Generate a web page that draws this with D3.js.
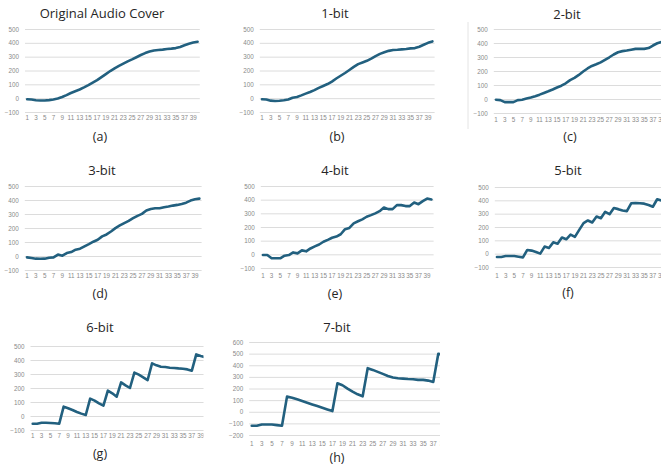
<!DOCTYPE html>
<html>
<head>
<meta charset="utf-8">
<script src="https://cdn.jsdelivr.net/npm/d3@7/dist/d3.min.js"></script>
<style>
  html, body { margin: 0; padding: 0; background: #fff; }
  svg { display: block; }
</style>
</head>
<body>
<svg id="fig" width="661" height="470"></svg>
<script>
// Sample indices along the horizontal axis
const samples = [1,2,3,4,5,6,7,8,9,10,11,12,13,14,15,16,17,18,19,20,
                 21,22,23,24,25,26,27,28,29,30,31,32,33,34,35,36,37,38,39,40];
const xTickLabels = [1,3,5,7,9,11,13,15,17,19,21,23,25,27,29,31,33,35,37,39];
const yTicksStd = [-100, 0, 100, 200, 300, 400, 500];
const yTicksWide = [-200, -100, 0, 100, 200, 300, 400, 500, 600];

const titles = ["Original Audio Cover", "1-bit", "2-bit", "3-bit", "4-bit", "5-bit", "6-bit", "7-bit"];
const captions = ["(a)", "(b)", "(c)", "(d)", "(e)", "(f)", "(g)", "(h)"];

// Series values per panel
const cover = [-8,-10,-15,-17,-17,-14,-10,-3,8,22,37,50,63,78,94,112,130,152,174,196,
               216,234,250,266,280,296,312,326,337,345,348,351,355,358,362,370,382,393,402,408];
const bit1  = [-8,-10,-18,-20,-19,-15,-10,3,8,20,33,45,58,74,88,102,120,142,162,182,
               204,226,246,258,270,286,304,320,332,342,348,350,353,356,360,362,372,386,400,410];
const bit2  = [-5,-8,-22,-22,-22,-8,-5,3,10,20,31,43,55,68,82,95,112,135,151,172,
               196,218,236,248,262,280,298,318,334,342,346,352,358,358,358,364,382,398,408,416];
const bit3  = [-10,-14,-19,-20,-19,-12,-10,10,2,21,28,45,52,69,85,102,116,140,154,175,
               199,218,235,251,270,287,301,325,336,341,341,348,353,360,365,372,381,396,405,410];
const bit4  = [-5,-5,-29,-29,-29,-10,-5,14,7,29,22,43,58,72,92,106,121,130,147,184,
               193,227,242,256,275,287,300,316,343,331,331,360,360,353,353,379,367,389,408,401];
const bit5  = [-25,-25,-18,-18,-18,-23,-28,28,23,13,0,53,43,85,75,121,108,143,126,178,
               229,249,234,279,266,314,296,342,334,324,319,378,380,378,375,365,352,408,398,392];
const bit6  = [-55,-55,-48,-48,-50,-52,-55,67,55,43,29,17,7,124,110,90,74,181,162,138,
               240,219,200,310,295,276,257,376,362,352,350,345,343,340,338,333,324,440,428,420];
const bit7  = [-121,-121,-110,-110,-110,-115,-121,130,121,107,92,78,63,49,35,20,6,245,228,199,
               173,150,133,375,360,343,326,308,294,288,285,282,280,274,274,268,256,499,490,480];

const seriesList = [cover, bit1, bit2, bit3, bit4, bit5, bit6, bit7];

// Panel geometry: plot band range, vertical pixel anchors, text rows and clip extents
const layout = [
  { x0: 25.0,  x1: 199.8, vTop: 500, pTop: 29,  vBot: -100, pBot: 112, ticks: yTicksStd,  titleX: 102, titleY: 13,  capX: 100, capY: 137, tickY: 119, clipL: 0,   clipR: 218 },
  { x0: 259.8, x1: 434.6, vTop: 500, pTop: 29,  vBot: -100, pBot: 112, ticks: yTicksStd,  titleX: 335, titleY: 13,  capX: 337, capY: 137, tickY: 119, clipL: 222, clipR: 440 },
  { x0: 493.8, x1: 668.2, vTop: 500, pTop: 29,  vBot: -100, pBot: 113, ticks: yTicksStd,  titleX: 567, titleY: 14,  capX: 570, capY: 137, tickY: 121, clipL: 442, clipR: 661, border: 468 },
  { x0: 24.8,  x1: 201.6, vTop: 500, pTop: 186, vBot: -100, pBot: 270, ticks: yTicksStd,  titleX: 102, titleY: 170, capX: 100, capY: 294, tickY: 277, clipL: 0,   clipR: 218 },
  { x0: 260.8, x1: 433.6, vTop: 500, pTop: 186, vBot: -100, pBot: 268, ticks: yTicksStd,  titleX: 335, titleY: 170, capX: 335, capY: 294, tickY: 277, clipL: 222, clipR: 440 },
  { x0: 494.8, x1: 668.0, vTop: 500, pTop: 187, vBot: -100, pBot: 267, ticks: yTicksStd,  titleX: 568, titleY: 170, capX: 568, capY: 293, tickY: 277, clipL: 442, clipR: 661 },
  { x0: 30.5,  x1: 207.3, vTop: 500, pTop: 346, vBot: -100, pBot: 430, ticks: yTicksStd,  titleX: 100, titleY: 327, capX: 100, capY: 454, tickY: 437, clipL: 0,   clipR: 203.5 },
  { x0: 249.2, x1: 450.9, vTop: 600, pTop: 342, vBot: -200, pBot: 435, ticks: yTicksWide, titleX: 337, titleY: 327, capX: 337, capY: 458, tickY: 445, clipL: 222, clipR: 440 }
];

const svg = d3.select("#fig");
const defs = svg.append("defs");

layout.forEach((L, i) => {
  const values = seriesList[i];
  const g = svg.append("g").attr("class", "panel");

  // clip so axes that run past the panel edge are cut off
  defs.append("clipPath").attr("id", "clip" + i)
    .append("rect").attr("x", L.clipL).attr("y", 0)
    .attr("width", L.clipR - L.clipL).attr("height", 470);
  const body = g.append("g").attr("clip-path", "url(#clip" + i + ")");

  const x = d3.scaleBand().domain(samples).range([L.x0, L.x1]).padding(0);
  const y = d3.scaleLinear().domain([L.vBot, L.vTop]).range([L.pBot, L.pTop]);
  const cx = d => x(d) + x.bandwidth() / 2;

  if (L.border) {
    body.append("line")
      .attr("x1", L.border).attr("x2", L.border)
      .attr("y1", L.pTop - 7).attr("y2", L.tickY + 8)
      .attr("stroke", "#e4e4e4").attr("stroke-width", 1);
  }

  // value axis with horizontal gridlines
  const yAxis = body.append("g")
    .attr("transform", `translate(${L.x0},0)`)
    .call(d3.axisLeft(y).tickValues(L.ticks).tickSize(-(L.x1 - L.x0)).tickPadding(6));
  yAxis.select(".domain").remove();
  yAxis.selectAll(".tick line").attr("stroke", "#dcdcdc").attr("stroke-width", 1);
  yAxis.selectAll(".tick text")
    .attr("fill", "#8a8a8a")
    .style("font-family", "'Liberation Sans', Arial, sans-serif")
    .style("font-size", "6.3px");

  // sample axis labels (odd indices)
  const xAxis = body.append("g")
    .attr("transform", `translate(0,${L.tickY - 3})`)
    .call(d3.axisBottom(x).tickValues(xTickLabels).tickSize(0).tickPadding(0));
  xAxis.select(".domain").remove();
  xAxis.selectAll(".tick text")
    .attr("fill", "#8a8a8a")
    .style("font-family", "'Liberation Sans', Arial, sans-serif")
    .style("font-size", "6.3px");

  // the series line
  const line = d3.line().x((d, k) => cx(samples[k])).y(d => y(d));
  body.append("path")
    .datum(values)
    .attr("d", line)
    .attr("fill", "none")
    .attr("stroke", "#22607f")
    .attr("stroke-width", 2.6)
    .attr("stroke-linejoin", "round")
    .attr("stroke-linecap", "round");

  // title and caption
  g.append("text")
    .attr("x", L.titleX).attr("y", L.titleY).attr("dy", "0.35em")
    .attr("text-anchor", "middle")
    .attr("fill", "#262626")
    .style("font-family", "'Open Sans', sans-serif")
    .style("font-size", "13px")
    .style("font-weight", "500")
    .text(titles[i]);

  g.append("text")
    .attr("x", L.capX).attr("y", L.capY).attr("dy", "0.35em")
    .attr("text-anchor", "middle")
    .attr("fill", "#262626")
    .style("font-family", "'Open Sans', sans-serif")
    .style("font-size", "12.5px")
    .style("font-weight", "500")
    .text(captions[i]);
});
</script>
</body>
</html>
